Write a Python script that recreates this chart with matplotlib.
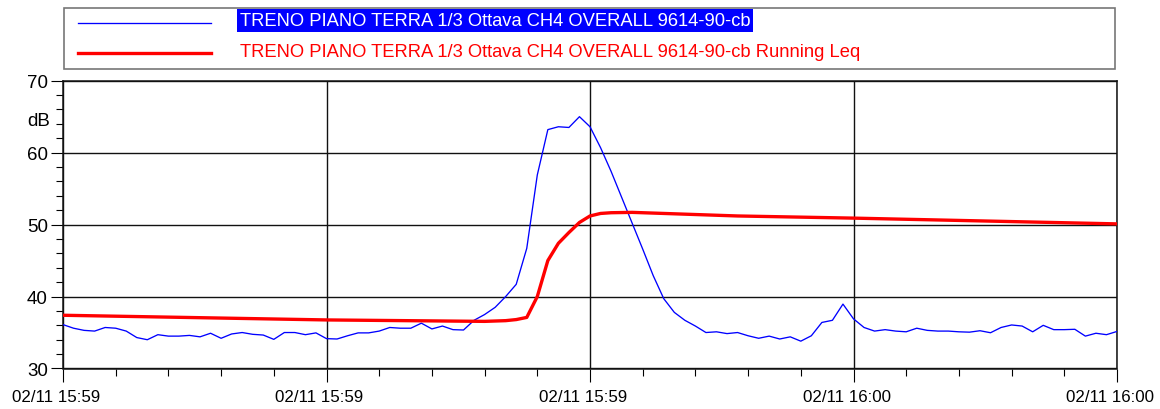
import matplotlib
matplotlib.use("Agg")
import matplotlib.pyplot as plt
import matplotlib.transforms as mtransforms
from matplotlib.patches import Rectangle
from matplotlib.lines import Line2D
import numpy as np

plt.rcParams['font.family'] = ['Liberation Sans', 'DejaVu Sans']

# 1/3 octave overall level, one sample per step
level_db = [36.1, 35.6, 35.3, 35.2, 35.7, 35.6, 35.2, 34.3, 34.0, 34.7,
            34.5, 34.5, 34.6, 34.4, 34.9, 34.2, 34.8, 35.0, 34.75, 34.65,
            34.05, 35.0, 35.0, 34.7, 34.95, 34.15, 34.1, 34.55, 34.95, 34.95,
            35.2, 35.7, 35.6, 35.6, 36.3, 35.5, 35.9, 35.4, 35.35, 36.7,
            37.5, 38.5, 40.0, 41.7, 46.7, 56.9, 63.2, 63.6, 63.5, 65.0,
            63.6, 60.7, 57.4, 53.8, 50.2, 46.6, 42.9, 39.7, 37.8, 36.7,
            35.9, 35.0, 35.1, 34.85, 35.0, 34.55, 34.2, 34.5, 34.1, 34.4,
            33.8, 34.55, 36.4, 36.7, 38.95, 36.9, 35.7, 35.2, 35.4, 35.2,
            35.1, 35.6, 35.3, 35.2, 35.2, 35.1, 35.05, 35.25, 34.97, 35.7,
            36.05, 35.9, 35.1, 36.0, 35.4, 35.4, 35.45, 34.5, 34.9, 34.7,
            35.15]
level_idx = list(range(len(level_db)))

# running Leq
leq_idx = [0, 25, 40, 42, 43, 44, 45, 46, 47, 48, 49, 50, 51, 52, 54, 58, 64, 75, 100]
leq_db = [37.4, 36.75, 36.55, 36.65, 36.8, 37.1, 40.0, 45.0, 47.4, 48.9,
          50.3, 51.2, 51.55, 51.65, 51.7, 51.5, 51.2, 50.9, 50.1]

x_ticks = [0, 25, 50, 75, 100]
x_labels = ['02/11 15:59', '02/11 15:59', '02/11 15:59', '02/11 16:00', '02/11 16:00']
y_ticks = [30, 40, 50, 60, 70]

name_level = 'TRENO PIANO TERRA 1/3 Ottava CH4 OVERALL 9614-90-cb'
name_leq = 'TRENO PIANO TERRA 1/3 Ottava CH4 OVERALL 9614-90-cb Running Leq'

W, H = 1160, 410
fig = plt.figure(figsize=(W / 100, H / 100), dpi=100)
ax = fig.add_axes([63 / W, 1 - 369.5 / H, (1117 - 63) / W, (369.5 - 81.7) / H])

ax.plot(level_idx, level_db, color='#0000ff', lw=0.95, zorder=3)
ax.plot(leq_idx, leq_db, color='#ff0000', lw=2.4, zorder=4, solid_joinstyle='round')

ax.set_xlim(0, 100)
ax.set_ylim(30, 70)
ax.set_xticks(x_ticks)
ax.set_xticklabels(x_labels)
ax.set_xticks(np.arange(0, 101, 5), minor=True)
ax.set_yticks(y_ticks)
ax.set_yticks(np.arange(30, 71, 2), minor=True)
ax.grid(True, which='major', color='#111111', lw=1.0)
ax.tick_params(which='major', direction='out', length=9, width=0.8, pad=3)
ax.tick_params(axis='y', which='major', labelsize=13.5, pad=2)
ax.tick_params(axis='x', which='major', labelsize=12.2, pad=6)
ax.tick_params(which='minor', direction='out', length=4.8, width=0.8)
for s in ax.spines.values():
    s.set_linewidth(1.1)
    s.set_color('#111111')

# date labels sit a little left of their ticks
shift = mtransforms.ScaledTranslation(-7 / 100, 0, fig.dpi_scale_trans)
for lbl in ax.get_xticklabels():
    lbl.set_transform(lbl.get_transform() + shift)

ax.text(-0.012, 0.862, 'dB', transform=ax.transAxes, ha='right', va='center', fontsize=13.5)

# legend panel drawn in pixel coordinates
lax = fig.add_axes([0, 0, 1, 1], zorder=5)
lax.set_xlim(0, W)
lax.set_ylim(H, 0)
lax.axis('off')
lax.patch.set_alpha(0)
lax.add_patch(Rectangle((64, 9), 1051, 61, facecolor='white', edgecolor='#777777', lw=1.2))
lax.add_line(Line2D([78, 211], [24, 24], color='#0000ff', lw=0.95))
lax.add_line(Line2D([78, 211], [54, 54], color='#ff0000', lw=2.4))
lax.text(240, 21.5, name_level, color='white', fontsize=13.2, va='center', ha='left',
         bbox=dict(facecolor='#0000ff', edgecolor='none', pad=1.8))
lax.text(240, 52.5, name_leq, color='#ff0000', fontsize=13.2, va='center', ha='left')

fig.savefig('out.png', dpi=100)
